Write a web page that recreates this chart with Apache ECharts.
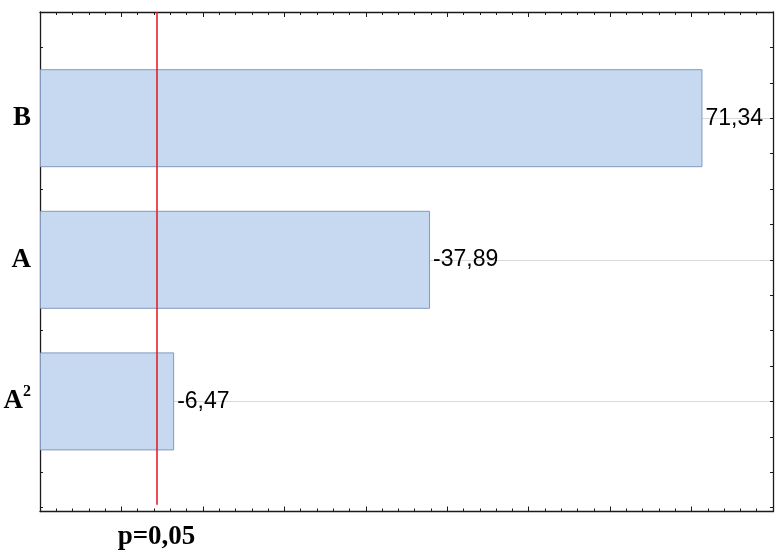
<!DOCTYPE html>
<html><head><meta charset="utf-8">
<script src="https://cdn.jsdelivr.net/npm/echarts@6/dist/echarts.min.js"></script>
<style>html,body{margin:0;padding:0;background:#fff}#c{width:780px;height:558px}</style>
</head><body><div id="c"></div>
<script>
// ---- data ----
const categories = ['A\u00b2', 'A', 'B'];          // bottom to top
const effectEstimates = [-6.47, -37.89, 71.34];     // signed standardized effects (labels)
const absEffects = [6.47, 37.89, 71.34];            // bar lengths (absolute values)
const criticalT = 4.303;                            // p = 0.05 reference line
const criticalLabel = 'p=0,05';
const xMin = -10, xMax = 80;

// ---- layout ----
const L = 40, R = 7, TOP = 12, FRAME_H = 499.5;
const UNIT = 141.6;                 // px between categories
const frameU = FRAME_H / UNIT;
const barTop = TOP + 0.75 * UNIT;
const barH = 2 * UNIT;

const chart = echarts.init(document.getElementById('c'), null, {renderer: 'canvas'});
const serif = '"Liberation Serif","Times New Roman",serif';
const sans = '"Liberation Sans",Arial,sans-serif';
const axisCol = '#1a1a1a';

const frameX = (pos) => ({
  type: 'value', gridIndex: 1, position: pos, min: xMin, max: xMax, interval: 10,
  axisLine: {show: true, onZero: false, lineStyle: {color: axisCol, width: 1.3}},
  axisTick: {show: true, inside: true, length: 5, lineStyle: {color: axisCol}},
  minorTick: {show: true, splitNumber: 5, length: 3, lineStyle: {color: axisCol}},
  axisLabel: {show: false}, splitLine: {show: false}, minorSplitLine: {show: false}
});
const frameY = (pos) => ({
  type: 'value', gridIndex: 1, position: pos, inverse: true, min: 0, max: frameU, interval: 0.25,
  axisLine: {show: true, onZero: false, lineStyle: {color: axisCol, width: 1.3}},
  axisTick: {show: true, inside: true, length: 3, lineStyle: {color: axisCol}},
  axisLabel: {show: false}, splitLine: {show: false}
});

chart.setOption({
  backgroundColor: '#fff',
  animation: false,
  grid: [
    {left: L, right: R, top: barTop, height: barH, containLabel: false},
    {left: L, right: R, top: TOP, height: FRAME_H, containLabel: false}
  ],
  xAxis: [
    {type: 'value', gridIndex: 0, min: xMin, max: xMax, startValue: xMin, show: false},
    frameX('bottom'), frameX('top')
  ],
  yAxis: [
    {type: 'category', gridIndex: 0, data: categories, boundaryGap: false,
     axisLine: {show: false}, axisTick: {show: false},
     splitLine: {show: true, lineStyle: {color: '#d9d9d9', width: 1}},
     axisLabel: {
       margin: 9, color: '#000',
       formatter: (v) => v.indexOf('\u00b2') >= 0 ? '{b|' + v.replace('\u00b2', '') + '}{s|2}' : '{b|' + v + '}',
       rich: {
         b: {fontFamily: serif, fontWeight: 'bold', fontSize: 27, color: '#000'},
         s: {fontFamily: serif, fontWeight: 'bold', fontSize: 16, color: '#000', verticalAlign: 'top', padding: [0, 0, 20, 0]}
       }
     }},
    frameY('left'), frameY('right')
  ],
  series: [
    {
      type: 'bar', xAxisIndex: 0, yAxisIndex: 0, data: absEffects, barWidth: 98, z: 2,
      itemStyle: {color: '#c6d9f1', borderColor: '#8299bd', borderWidth: 1},
      label: {
        show: true, position: 'right', distance: 3, color: '#000',
        fontFamily: sans, fontSize: 23,
        formatter: (p) => effectEstimates[p.dataIndex].toFixed(2).replace('.', ',')
      }
    },
    {
      type: 'line', xAxisIndex: 1, yAxisIndex: 1, data: [], z: 10, silent: true,
      markLine: {
        silent: true, symbol: 'none', animation: false,
        lineStyle: {color: '#e3141c', width: 1.5, type: 'solid'},
        label: {show: true, position: 'start', distance: 19, formatter: criticalLabel,
                fontFamily: serif, fontWeight: 'bold', fontSize: 27, color: '#000'},
        emphasis: {disabled: true},
        data: [[{coord: [criticalT, 3.48]}, {coord: [criticalT, 0]}]]
      }
    }
  ]
});
</script></body></html>
